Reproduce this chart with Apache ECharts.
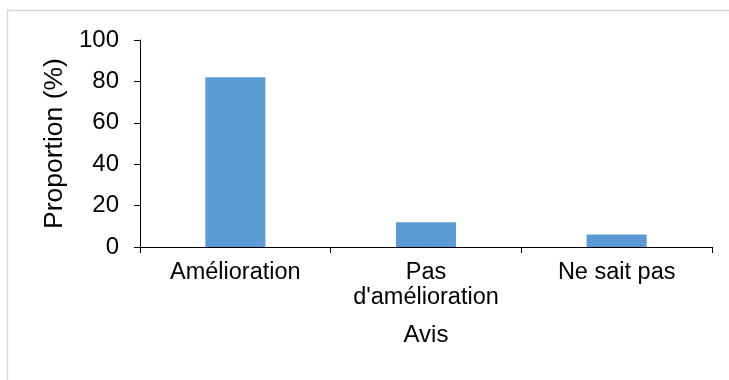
<!DOCTYPE html>
<html>
<head>
<meta charset="utf-8">
<script src="https://cdn.jsdelivr.net/npm/echarts@6/dist/echarts.min.js"></script>
<style>
html,body{margin:0;padding:0;background:#fff;}
#chart{width:729px;height:380px;}
</style>
</head>
<body>
<div id="chart"></div>
<script>
var categories = ["Amélioration", "Pas\nd'amélioration", "Ne sait pas"];
var values = [82, 12, 6];
var yTicks = [0, 20, 40, 60, 80, 100];
var xTitle = "Avis";
var yTitle = "Proportion (%)";

var chart = echarts.init(document.getElementById('chart'), null, {renderer: 'canvas'});
var font = '"Liberation Sans", Arial, sans-serif';
chart.setOption({
  animation: false,
  backgroundColor: '#fff',
  graphic: [{
    type: 'rect',
    shape: {x: 7.5, y: 10.5, width: 900, height: 600},
    style: {fill: 'none', stroke: '#d9d9d9', lineWidth: 1.5},
    silent: true
  }],
  grid: {left: 140, right: 17, top: 40, bottom: 133, containLabel: false},
  xAxis: {
    type: 'category',
    data: categories,
    name: xTitle,
    nameLocation: 'middle',
    nameGap: 76,
    nameTextStyle: {fontFamily: font, fontSize: 24, color: '#000'},
    axisLine: {lineStyle: {color: '#000', width: 1}},
    axisTick: {show: true, alignWithLabel: false, length: 6, lineStyle: {color: '#000'}},
    axisLabel: {fontFamily: font, fontSize: 23.5, color: '#000', margin: 13, lineHeight: 25, interval: 0}
  },
  yAxis: {
    type: 'value',
    min: yTicks[0],
    max: yTicks[yTicks.length - 1],
    interval: 20,
    name: yTitle,
    nameLocation: 'middle',
    nameGap: 64,
    nameRotate: 90,
    nameTextStyle: {fontFamily: font, fontSize: 26.5, color: '#000'},
    axisLine: {show: true, lineStyle: {color: '#000', width: 1}},
    axisTick: {show: true, length: 6, lineStyle: {color: '#000'}},
    axisLabel: {fontFamily: font, fontSize: 24, color: '#000', margin: 21},
    splitLine: {show: false}
  },
  series: [{
    type: 'bar',
    data: values,
    barWidth: '31.5%',
    itemStyle: {color: '#5b9bd5'}
  }]
});
</script>
</body>
</html>
